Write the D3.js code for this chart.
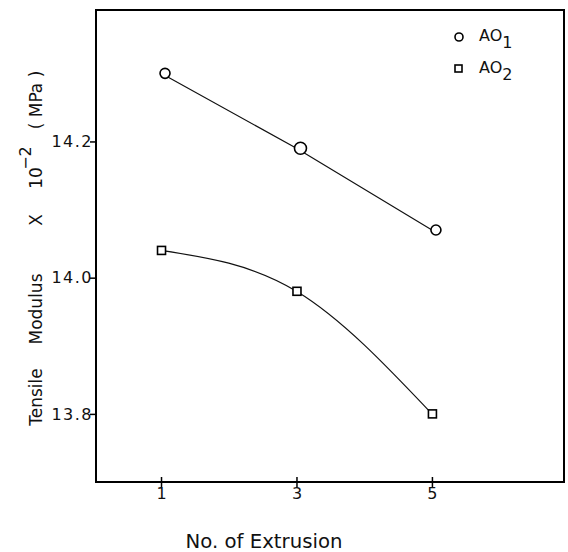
<!DOCTYPE html>
<html>
<head>
  <meta charset="utf-8">
  <title>Tensile Modulus vs No. of Extrusion</title>
  <script src="https://d3js.org/d3.v7.min.js"></script>
  <style>
    body { margin: 0; background: #fff; }
    text {
      font-family: "DejaVu Sans", sans-serif;
      fill: #111;
    }
    .frame { fill: none; stroke: #000; stroke-width: 2px; }
    .line { fill: none; stroke: #111; stroke-width: 1.2px; }
    .mark { fill: #fff; stroke: #000; stroke-width: 1.6px; }
  </style>
</head>
<body>
  <svg width="568" height="552"></svg>

  <script>
    // data
    const extrusions = [1, 3, 5];
    const ao1 = [14.30, 14.19, 14.07];
    const ao2 = [14.04, 13.98, 13.80];
    const yTicks = [13.8, 14.0, 14.2];
    const seriesNames = ["AO", "AO"];
    const seriesSubs = ["1", "2"];

    const svg = d3.select("svg");

    // plot box
    const boxL = 96, boxR = 564, boxT = 10, boxB = 482;

    const x = d3.scaleLinear().domain([0.04, 6.95]).range([boxL, boxR]);
    const y = d3.scaleLinear().domain([13.70, 14.393]).range([boxB, boxT]);

    // frame
    svg.append("rect")
      .attr("class", "frame")
      .attr("x", boxL)
      .attr("y", boxT)
      .attr("width", boxR - boxL)
      .attr("height", boxB - boxT);

    // y axis
    const yAxis = d3.axisLeft(y)
      .tickValues(yTicks)
      .tickFormat(d3.format(".1f"))
      .tickSize(6)
      .tickSizeOuter(0);
    const gy = svg.append("g")
      .attr("transform", `translate(${boxL},0)`)
      .call(yAxis);
    gy.select(".domain").remove();
    gy.selectAll("line").attr("stroke", "#000").attr("stroke-width", 1.5);
    gy.selectAll("text")
      .attr("x", -3)
      .attr("font-size", 16)
      .attr("letter-spacing", 1.5)
      .attr("font-family", "DejaVu Sans");

    // x axis
    const xAxis = d3.axisBottom(x)
      .tickValues(extrusions)
      .tickFormat(d3.format("d"))
      .tickSize(5)
      .tickSizeOuter(0);
    const gx = svg.append("g")
      .attr("transform", `translate(0,${boxB})`)
      .call(xAxis);
    gx.select(".domain").remove();
    gx.selectAll("line").attr("stroke", "#000").attr("stroke-width", 1.5)
      .attr("y1", -5);
    gx.selectAll("text")
      .attr("y", 6)
      .attr("font-size", 16)
      .attr("font-family", "DejaVu Sans");

    // lines
    const pts1 = extrusions.map((d, i) => [d, ao1[i]]);
    const pts2 = extrusions.map((d, i) => [d, ao2[i]]);

    svg.append("path")
      .attr("class", "line")
      .attr("d", d3.line().x(d => x(d[0])).y(d => y(d[1]))(pts1));

    svg.append("path")
      .attr("class", "line")
      .attr("d", d3.line().curve(d3.curveNatural).x(d => x(d[0])).y(d => y(d[1]))(pts2));

    // markers
    svg.selectAll(".c1")
      .data(pts1)
      .enter().append("circle")
      .attr("class", "mark")
      .attr("cx", d => x(d[0]) + 4)
      .attr("cy", d => y(d[1]))
      .attr("r", (d, i) => i === 1 ? 6 : 5);

    svg.selectAll(".s2")
      .data(pts2)
      .enter().append("rect")
      .attr("class", "mark")
      .attr("x", d => x(d[0]) - 3.5)
      .attr("y", d => y(d[1]) - 4)
      .attr("width", 8)
      .attr("height", 8);

    // legend
    const legend = svg.append("g");
    seriesNames.forEach((name, i) => {
      const ly = 37 + i * 32;
      if (i === 0) {
        legend.append("circle").attr("class", "mark")
          .attr("cx", 459).attr("cy", ly).attr("r", 4);
      } else {
        legend.append("rect").attr("class", "mark")
          .attr("x", 455).attr("y", ly - 4).attr("width", 7).attr("height", 7);
      }
      const t = legend.append("text")
        .attr("x", 479)
        .attr("y", ly + 4)
        .attr("font-size", 16)
        .text(name);
      t.append("tspan")
        .attr("dy", 7)
        .attr("font-size", 16)
        .text(seriesSubs[i]);
    });

    // y title, laid out word by word as in the original lettering
    const yTitle = svg.append("g")
      .attr("transform", "translate(42,0) rotate(-90)")
      .attr("font-size", 17);
    const words = [
      { t: "Tensile", c: 397 },
      { t: "Modulus", c: 309 },
      { t: "X", c: 220 },
      { t: "10", c: 178 },
      { t: "( MPa )", c: 100 }
    ];
    words.forEach(w => {
      yTitle.append("text")
        .attr("x", -w.c)
        .attr("y", 0)
        .attr("text-anchor", "middle")
        .text(w.t);
    });
    yTitle.append("text")
      .attr("x", -158)
      .attr("y", -11)
      .attr("text-anchor", "middle")
      .attr("font-size", 16)
      .text("−2");

    // x title
    svg.append("text")
      .attr("x", 264)
      .attr("y", 548)
      .attr("text-anchor", "middle")
      .attr("font-size", 19)
      .attr("textLength", 157)
      .attr("lengthAdjust", "spacingAndGlyphs")
      .text("No. of Extrusion");
  </script>
</body>
</html>
